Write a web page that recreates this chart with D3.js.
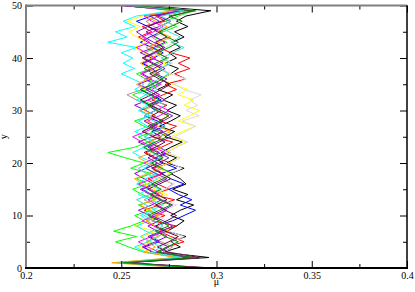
<!DOCTYPE html>
<html>
<head>
<meta charset="utf-8">
<script src="https://cdn.jsdelivr.net/npm/d3@7"></script>
<style>
body { margin: 0; background: #fff; }
text { font-family: "Liberation Serif", "DejaVu Serif", serif; font-size: 10px; }
</style>
</head>
<body>
<script>
var w = 415;
var h = 292;

// y positions 0..50, one mu value per position for each profile
var yLevels = d3.range(0, 51);
var xTicks = [0.2, 0.25, 0.3, 0.35, 0.4];
var yTicks = [0, 10, 20, 30, 40, 50];
var colors = ["#000000", "#ff0000", "#00ff00", "#0000ff", "#ffff00", "#bc8f8f", "#dcdcdc",
              "#9400d3", "#00ffff", "#ff00ff", "#ffa500", "#7221bc", "#670748", "#40e0d0", "#008b00"];

var s1 = [0.298,0.252,0.296,0.272,0.281,0.276,0.284,0.274,0.279,0.283,
          0.276,0.281,0.288,0.279,0.285,0.277,0.284,0.281,0.276,0.283,
          0.274,0.279,0.271,0.276,0.282,0.273,0.278,0.270,0.276,0.281,
          0.274,0.279,0.272,0.277,0.269,0.275,0.271,0.276,0.280,0.273,
          0.279,0.275,0.281,0.277,0.283,0.278,0.285,0.279,0.284,0.297,0.262];
var s2 = [0.291,0.250,0.288,0.268,0.274,0.283,0.276,0.270,0.279,0.266,
          0.273,0.262,0.270,0.278,0.266,0.275,0.269,0.264,0.272,0.267,
          0.276,0.268,0.263,0.271,0.277,0.266,0.273,0.279,0.270,0.275,
          0.268,0.274,0.266,0.272,0.279,0.273,0.284,0.278,0.286,0.280,
          0.286,0.276,0.270,0.264,0.259,0.266,0.261,0.273,0.268,0.284,0.250];
var s3 = [0.287,0.249,0.281,0.262,0.254,0.247,0.258,0.246,0.255,0.262,
          0.257,0.265,0.259,0.268,0.261,0.256,0.264,0.258,0.266,0.255,
          0.262,0.252,0.243,0.257,0.264,0.259,0.268,0.262,0.257,0.265,
          0.260,0.267,0.261,0.256,0.264,0.270,0.263,0.258,0.266,0.261,
          0.268,0.262,0.269,0.274,0.267,0.272,0.279,0.273,0.280,0.288,0.256];
var s4 = [0.293,0.252,0.285,0.266,0.262,0.270,0.265,0.274,0.268,0.277,
          0.283,0.289,0.281,0.287,0.280,0.275,0.283,0.276,0.271,0.279,
          0.272,0.268,0.275,0.270,0.264,0.271,0.266,0.273,0.269,0.262,
          0.268,0.264,0.271,0.266,0.260,0.267,0.263,0.270,0.266,0.261,
          0.267,0.272,0.266,0.260,0.265,0.271,0.264,0.258,0.266,0.279,0.251];
var s5 = [0.289,0.251,0.283,0.265,0.259,0.266,0.261,0.268,0.257,0.264,
          0.270,0.263,0.272,0.266,0.274,0.268,0.263,0.270,0.276,0.269,
          0.275,0.281,0.273,0.278,0.284,0.276,0.282,0.289,0.280,0.286,
          0.291,0.283,0.288,0.280,0.285,0.277,0.271,0.276,0.268,0.274,
          0.266,0.262,0.257,0.263,0.258,0.254,0.260,0.253,0.261,0.276,0.253];
var s6 = [0.286,0.250,0.284,0.272,0.277,0.271,0.266,0.273,0.268,0.263,
          0.269,0.274,0.267,0.262,0.268,0.273,0.277,0.271,0.266,0.272,
          0.265,0.270,0.276,0.269,0.264,0.270,0.261,0.266,0.272,0.265,
          0.260,0.266,0.258,0.253,0.261,0.267,0.262,0.269,0.264,0.270,
          0.275,0.268,0.263,0.270,0.266,0.272,0.267,0.263,0.270,0.285,0.258];
var s7 = [0.294,0.253,0.290,0.276,0.270,0.277,0.283,0.275,0.269,0.274,
          0.268,0.273,0.279,0.272,0.267,0.273,0.278,0.271,0.276,0.282,
          0.276,0.281,0.274,0.279,0.285,0.278,0.284,0.289,0.282,0.291,
          0.284,0.290,0.286,0.292,0.283,0.278,0.284,0.276,0.271,0.277,
          0.272,0.266,0.273,0.278,0.272,0.268,0.275,0.281,0.276,0.290,0.260];
var s8 = [0.290,0.249,0.287,0.267,0.261,0.268,0.274,0.269,0.264,0.270,
          0.265,0.259,0.266,0.271,0.265,0.260,0.267,0.262,0.257,0.263,
          0.269,0.264,0.270,0.265,0.259,0.266,0.272,0.267,0.262,0.268,
          0.263,0.257,0.264,0.270,0.265,0.259,0.266,0.261,0.267,0.272,
          0.266,0.260,0.267,0.273,0.268,0.263,0.270,0.276,0.269,0.281,0.251];
var s9 = [0.288,0.247,0.280,0.263,0.257,0.264,0.270,0.263,0.258,0.265,
          0.260,0.266,0.272,0.265,0.259,0.264,0.258,0.263,0.269,0.262,
          0.267,0.261,0.256,0.262,0.268,0.263,0.257,0.264,0.259,0.265,
          0.259,0.264,0.258,0.263,0.257,0.262,0.256,0.250,0.257,0.251,
          0.256,0.250,0.258,0.243,0.253,0.247,0.257,0.251,0.258,0.277,0.254];
var s10 = [0.292,0.251,0.286,0.270,0.264,0.259,0.266,0.272,0.267,0.261,
           0.268,0.274,0.269,0.264,0.270,0.265,0.259,0.266,0.271,0.267,
           0.262,0.268,0.273,0.267,0.261,0.256,0.263,0.269,0.264,0.270,
           0.275,0.269,0.264,0.270,0.266,0.271,0.265,0.260,0.266,0.262,
           0.268,0.263,0.258,0.265,0.261,0.267,0.272,0.266,0.262,0.280,0.252];
var s11 = [0.284,0.245,0.279,0.262,0.268,0.263,0.269,0.275,0.268,0.263,
           0.270,0.265,0.260,0.267,0.272,0.266,0.261,0.257,0.264,0.270,
           0.264,0.259,0.266,0.271,0.265,0.270,0.276,0.269,0.263,0.268,
           0.262,0.267,0.273,0.268,0.263,0.258,0.264,0.270,0.265,0.260,
           0.266,0.271,0.265,0.270,0.276,0.269,0.274,0.268,0.263,0.278,0.254];
var s12 = [0.289,0.252,0.284,0.270,0.275,0.269,0.264,0.271,0.277,0.272,
           0.266,0.272,0.277,0.271,0.266,0.261,0.268,0.274,0.268,0.263,
           0.270,0.275,0.269,0.264,0.270,0.276,0.271,0.265,0.272,0.277,
           0.271,0.266,0.273,0.268,0.263,0.269,0.274,0.268,0.273,0.267,
           0.262,0.268,0.273,0.267,0.262,0.258,0.264,0.270,0.265,0.282,0.250];
var s13 = [0.295,0.254,0.291,0.275,0.269,0.275,0.280,0.273,0.268,0.274,
           0.279,0.273,0.268,0.274,0.269,0.264,0.270,0.276,0.271,0.266,
           0.272,0.267,0.262,0.268,0.273,0.267,0.261,0.267,0.272,0.266,
           0.271,0.265,0.260,0.266,0.271,0.276,0.270,0.265,0.271,0.266,
           0.261,0.267,0.272,0.268,0.274,0.269,0.264,0.271,0.277,0.287,0.256];
var s14 = [0.287,0.250,0.282,0.266,0.271,0.265,0.260,0.266,0.272,0.267,
           0.262,0.268,0.263,0.258,0.265,0.270,0.264,0.269,0.263,0.259,
           0.265,0.271,0.266,0.261,0.267,0.262,0.268,0.273,0.267,0.262,
           0.268,0.273,0.268,0.263,0.269,0.264,0.270,0.275,0.270,0.276,
           0.271,0.277,0.283,0.276,0.281,0.275,0.270,0.276,0.271,0.283,0.255];
var s15 = [0.291,0.251,0.288,0.269,0.274,0.280,0.273,0.268,0.275,0.270,
           0.264,0.270,0.276,0.270,0.265,0.271,0.266,0.272,0.277,0.271,
           0.266,0.272,0.267,0.262,0.268,0.274,0.269,0.264,0.270,0.275,
           0.269,0.264,0.270,0.265,0.260,0.266,0.272,0.267,0.262,0.268,
           0.274,0.269,0.275,0.280,0.274,0.270,0.276,0.282,0.275,0.289,0.257];

var series = [s1, s2, s3, s4, s5, s6, s7, s8, s9, s10, s11, s12, s13, s14, s15];

var plotLeft = 26, plotRight = 407, plotTop = 5.5, plotBottom = 268;

var x = d3.scaleLinear().domain([0.2, 0.4]).range([plotLeft, plotRight]);
var y = d3.scaleLinear().domain([0, 50]).range([plotBottom, plotTop]);

var svg = d3.select("body").append("svg").attr("width", w).attr("height", h);

var line = d3.line()
    .x(function (d) { return x(d); })
    .y(function (d, i) { return y(yLevels[i]); });

svg.append("g")
    .selectAll("path")
    .data(series)
    .enter()
    .append("path")
    .attr("d", line)
    .style("fill", "none")
    .style("stroke", function (d, i) { return colors[i % colors.length]; })
    .style("stroke-width", 1);

// axes, grace style: ticks pointing inward on all four sides
var xMinor = [0.225, 0.275, 0.325, 0.375];
var yMinor = [5, 15, 25, 35, 45];

var axisBottom = d3.axisBottom(x).tickValues(xTicks).tickSize(-7).tickPadding(4)
    .tickFormat(function (d) { return d3.format("~g")(d); });
var axisLeft = d3.axisLeft(y).tickValues(yTicks).tickSize(-7).tickPadding(4);

svg.append("g").attr("transform", "translate(0," + plotBottom + ")").call(axisBottom);
svg.append("g").attr("transform", "translate(" + plotLeft + ",0)").call(axisLeft);
svg.append("g").attr("transform", "translate(0," + plotTop + ")")
    .call(d3.axisTop(x).tickValues(xTicks).tickSize(-7).tickFormat(""));
svg.append("g").attr("transform", "translate(" + plotRight + ",0)")
    .call(d3.axisRight(y).tickValues(yTicks).tickSize(-7).tickFormat(""));

svg.append("g").attr("transform", "translate(0," + plotBottom + ")")
    .call(d3.axisBottom(x).tickValues(xMinor).tickSize(-4).tickFormat(""));
svg.append("g").attr("transform", "translate(0," + plotTop + ")")
    .call(d3.axisTop(x).tickValues(xMinor).tickSize(-4).tickFormat(""));
svg.append("g").attr("transform", "translate(" + plotLeft + ",0)")
    .call(d3.axisLeft(y).tickValues(yMinor).tickSize(-4).tickFormat(""));
svg.append("g").attr("transform", "translate(" + plotRight + ",0)")
    .call(d3.axisRight(y).tickValues(yMinor).tickSize(-4).tickFormat(""));

svg.selectAll(".domain").remove();
svg.selectAll(".tick line").style("stroke", "#000");
svg.selectAll(".tick text")
    .style("font-family", "'Liberation Serif', serif")
    .style("font-size", "10px")
    .style("fill", "#000");

// frame
svg.append("line").attr("x1", plotLeft).attr("x2", plotLeft).attr("y1", plotTop - 1).attr("y2", plotBottom)
    .style("stroke", "#808080").style("stroke-width", 2);
svg.append("line").attr("x1", plotLeft).attr("x2", plotRight).attr("y1", plotTop).attr("y2", plotTop)
    .style("stroke", "#808080").style("stroke-width", 2);
svg.append("line").attr("x1", plotLeft - 1).attr("x2", plotRight + 1).attr("y1", plotBottom).attr("y2", plotBottom)
    .style("stroke", "#000").style("stroke-width", 2);
svg.append("line").attr("x1", plotRight).attr("x2", plotRight).attr("y1", plotTop).attr("y2", plotBottom)
    .style("stroke", "#000").style("stroke-width", 1.5);

svg.append("text")
    .attr("x", x(0.3))
    .attr("y", 285)
    .attr("text-anchor", "middle")
    .text("μ");

svg.append("text")
    .attr("transform", "translate(7," + y(25) + ") rotate(-90)")
    .attr("text-anchor", "middle")
    .text("y");
</script>
</body>
</html>
